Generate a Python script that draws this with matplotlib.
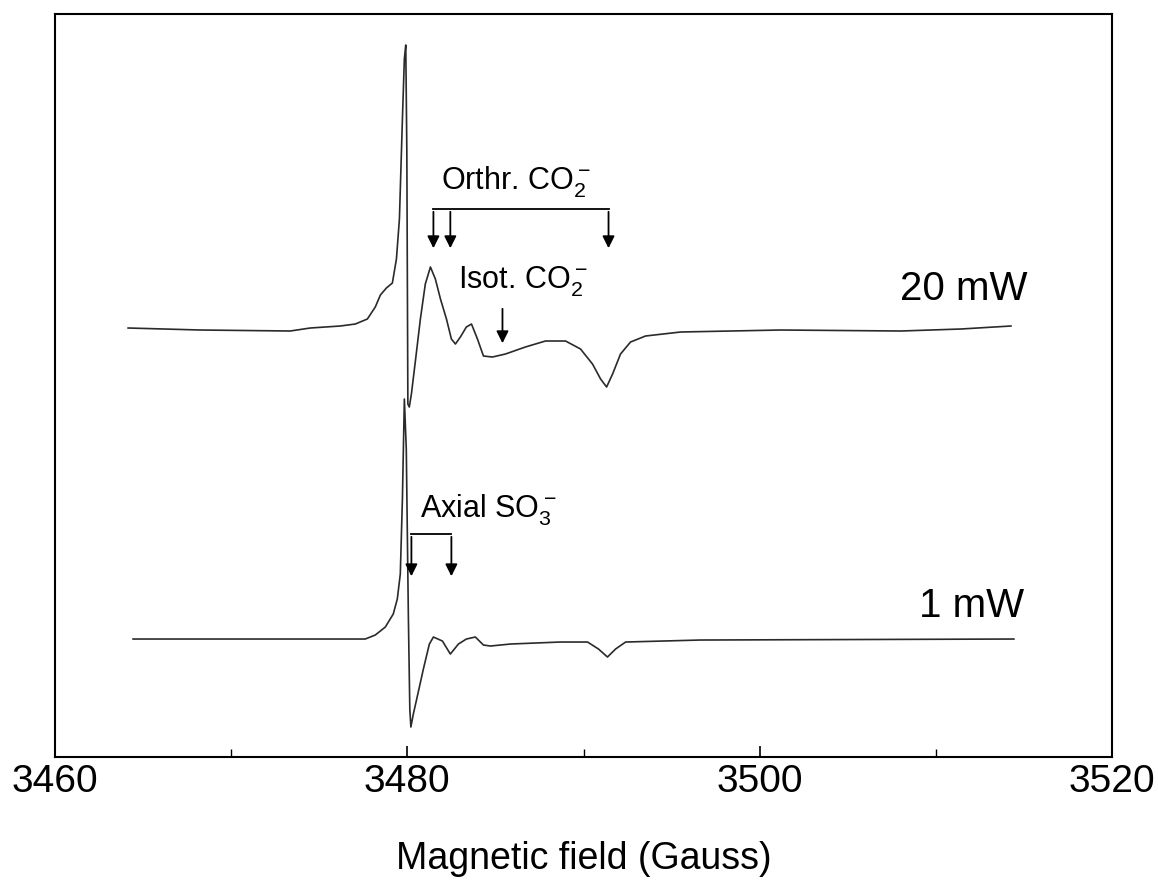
import matplotlib
matplotlib.use('Agg')
import matplotlib.pyplot as plt

plt.rcParams['font.family'] = ['Liberation Sans', 'DejaVu Sans']
plt.rcParams['mathtext.default'] = 'regular'

# EPR spectra, field in Gauss, derivative intensity (a.u.) relative to baseline
field_20mw = [3464.15, 3468.24, 3473.35, 3474.49, 3476.19, 3477.05, 3477.73, 3478.18,
              3478.47, 3478.81, 3479.15, 3479.38, 3479.55, 3479.72, 3479.83, 3479.91,
              3479.97, 3480.03, 3480.11, 3480.23, 3480.45, 3480.74, 3481.02, 3481.31,
              3481.59, 3481.88, 3482.22, 3482.50, 3482.73, 3483.01, 3483.35, 3483.64,
              3483.98, 3484.32, 3484.83, 3485.57, 3486.70, 3487.84, 3488.98, 3489.83,
              3490.51, 3490.97, 3491.31, 3491.65, 3492.10, 3492.67, 3493.52, 3495.51,
              3501.19, 3508.01, 3511.42, 3514.26]
signal_20mw = [0, -2, -3, 0, 2, 4, 9, 21,
               33, 40, 45, 69, 109, 209, 269, 283,
               179, -76, -79, -66, -34, 9, 44, 61,
               49, 29, 9, -11, -16, -9, 1, 4,
               -11, -28, -29, -26, -19, -13, -13, -21,
               -36, -51, -59, -46, -26, -14, -8, -4,
               -2, -3, -1, 2]

field_1mw = [3464.43, 3471.08, 3477.61, 3478.18, 3478.75, 3479.20, 3479.43, 3479.60,
             3479.72, 3479.83, 3479.94, 3480.06, 3480.14, 3480.20, 3480.34, 3480.57,
             3480.91, 3481.25, 3481.48, 3481.99, 3482.44, 3482.90, 3483.35, 3483.86,
             3484.32, 3484.72, 3485.85, 3488.69, 3490.23, 3490.85, 3491.36, 3491.82,
             3492.39, 3496.65, 3514.43]
signal_1mw = [0, 0, 0, 4, 12, 25, 40, 65,
              140, 240, 190, 20, -70, -88, -75, -57,
              -30, -5, 2, -2, -15, -5, 0, 2,
              -6, -7, -5, -3, -3, -10, -18, -10,
              -3, -1, 0]

xticks = [3460, 3480, 3500, 3520]
minor_xticks = [3470, 3490, 3510]

# vertical offsets of the two traces
offset_20 = 429
offset_1 = 118

fig = plt.figure(figsize=(11.58, 8.87), dpi=100)
ax = fig.add_axes([0.0475, 0.1454, 0.9128, 0.8377])

line_color = '#2a2a2a'
ax.plot(field_20mw, [s + offset_20 for s in signal_20mw], color=line_color, lw=1.2)
ax.plot(field_1mw, [s + offset_1 for s in signal_1mw], color=line_color, lw=1.2)

ax.set_xlim(3460, 3520)
ax.set_ylim(0, 743)
ax.set_yticks([])
ax.set_xticks(xticks)
ax.set_xticks(minor_xticks, minor=True)
ax.tick_params(axis='x', which='major', direction='in', length=8, width=1.2, labelsize=28, pad=4)
ax.tick_params(axis='x', which='minor', direction='in', length=6, width=1.0)
for sp in ax.spines.values():
    sp.set_linewidth(1.5)
ax.set_xlabel('Magnetic field (Gauss)', fontsize=27, labelpad=30)

# power labels
ax.text(3515.2, 458, '20 mW', fontsize=29, ha='right', va='baseline')
ax.text(3515.0, 141, '1 mW', fontsize=29, ha='right', va='baseline')

# annotations
arrow_kw = dict(arrowstyle='-|>', color='black', lw=1.3, mutation_scale=18)

ax.text(3481.9, 568, 'Orthr. CO$_2^-$', fontsize=22, va='baseline')
ax.plot([3481.48, 3491.42], [548, 548], color='black', lw=1.3)
for xa in [3481.48, 3482.44, 3491.42]:
    ax.annotate('', xy=(xa, 506), xytext=(xa, 548), arrowprops=arrow_kw)

ax.text(3482.9, 470, 'Isot. CO$_2^-$', fontsize=22, va='baseline')
ax.annotate('', xy=(3485.4, 411), xytext=(3485.4, 451), arrowprops=arrow_kw)

ax.text(3480.74, 241, 'Axial SO$_3^-$', fontsize=22, va='baseline')
ax.plot([3480.23, 3482.5], [223, 223], color='black', lw=1.3)
for xa in [3480.23, 3482.5]:
    ax.annotate('', xy=(xa, 178), xytext=(xa, 223), arrowprops=arrow_kw)

plt.savefig('out.png', dpi=100)
